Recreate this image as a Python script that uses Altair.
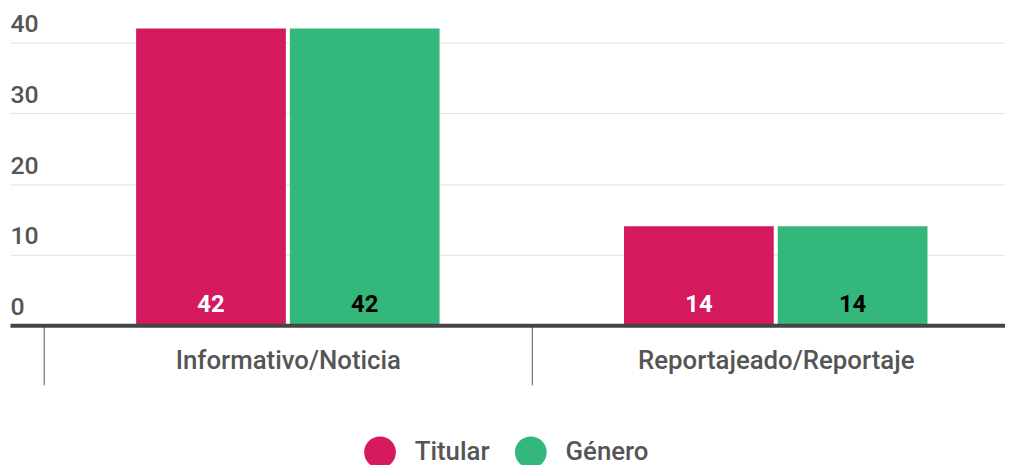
import altair as alt
import pandas as pd

categories = ["Informativo/Noticia", "Reportajeado/Reportaje"]
series = ["Titular", "Género"]
titular = [42, 14]
genero = [42, 14]
y_ticks = [0, 10, 20, 30, 40]

rows = []
for i, c in enumerate(categories):
    rows.append({"categoria": c, "serie": series[0], "valor": titular[i]})
    rows.append({"categoria": c, "serie": series[1], "valor": genero[i]})
df = pd.DataFrame(rows)

FONT = "Roboto"
PINK = "#d5195f"
GREEN = "#33b77a"
GREY = "#555555"

x_enc = alt.X(
    "categoria:N",
    sort=categories,
    scale=alt.Scale(range=[0, 1052], paddingInner=0, paddingOuter=0.0695),
    axis=alt.Axis(
        title=None, labelAngle=0, domainColor="#444444", domainWidth=4,
        ticks=True, tickBand="extent", tickSize=60, tickColor=GREY, tickWidth=1,
        labelPadding=-37, labelBaseline="top", labelFontSize=26, labelColor=GREY,
        labelFont=FONT, labelFontWeight=500, labelLimit=0, grid=False, zindex=1,
    ),
)
xo_enc = alt.XOffset("serie:N", sort=series,
                     scale=alt.Scale(paddingInner=0.0261, paddingOuter=0.60))
y_enc = alt.Y(
    "valor:Q",
    scale=alt.Scale(domain=[0, 40], nice=False),
    axis=alt.Axis(
        title=None, values=y_ticks, domain=False, ticks=False, grid=True,
        gridColor="#e2e2e2", gridWidth=1, labelAlign="left", labelBaseline="alphabetic",
        labelPadding=0, labelOffset=-11, labelFontSize=25, labelColor=GREY,
        labelFont=FONT, labelFontWeight=500,
    ),
)

bars = alt.Chart(df).mark_bar().encode(
    x=x_enc,
    xOffset=xo_enc,
    y=y_enc,
    color=alt.Color(
        "serie:N", sort=series,
        scale=alt.Scale(domain=series, range=[PINK, GREEN]),
        legend=alt.Legend(
            title=None, orient="none", legendX=357, legendY=397, direction="horizontal",
            symbolType="circle", symbolSize=1024, symbolStrokeWidth=0, symbolOpacity=1,
            labelFontSize=26, labelFont=FONT, labelColor=GREY, labelFontWeight=500,
            labelOffset=19, columnPadding=25, labelLimit=0,
        ),
    ),
)

labels = alt.Chart(df).mark_text(
    baseline="alphabetic", dy=-13, fontSize=24, fontWeight="bold", font=FONT
).encode(
    x=alt.X("categoria:N", sort=categories),
    xOffset=alt.XOffset("serie:N", sort=series),
    y=alt.datum(0),
    text=alt.Text("valor:Q"),
    color=alt.condition(alt.datum.serie == "Titular", alt.value("white"), alt.value("black")),
)

chart = alt.layer(bars, labels).properties(
    width=1003, height=285,
    autosize=alt.AutoSizeParams(type="none"),
    padding={"left": 2, "top": 33, "right": 0, "bottom": 139},
).configure_view(stroke=None)

chart.save("out.html", embed_options={"renderer": "svg", "actions": False})
